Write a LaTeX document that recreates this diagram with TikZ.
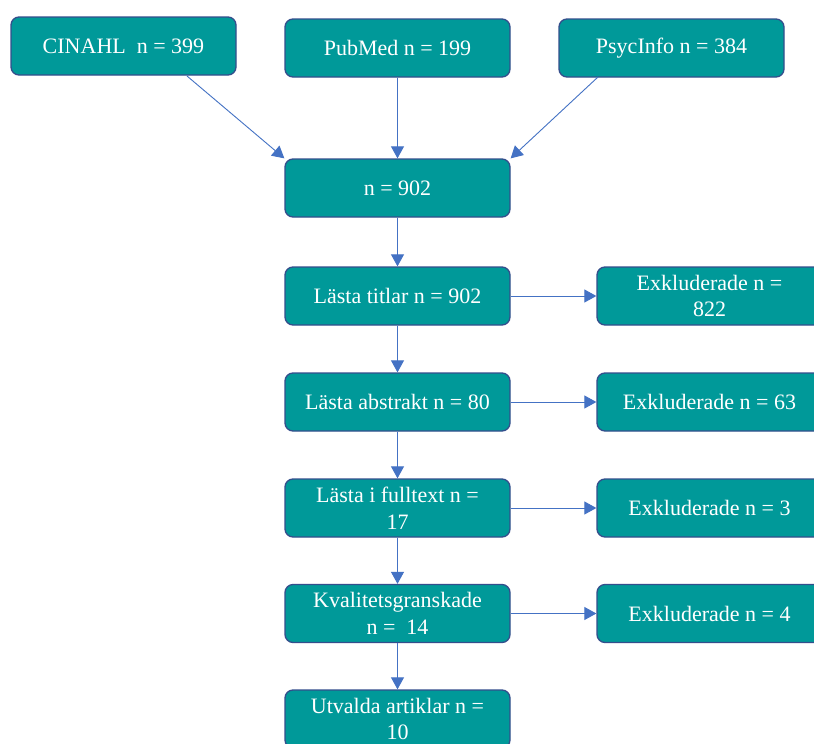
\documentclass[tikz,border=0pt]{standalone}
\usepackage{fontspec}
\setmainfont{Liberation Serif}
\usetikzlibrary{arrows.meta}
\definecolor{boxfill}{RGB}{0,153,153}
\definecolor{boxline}{RGB}{52,78,140}
\definecolor{arrowc}{RGB}{68,114,196}
\tikzset{
  stepbox/.style={draw=boxline, line width=1.3pt, fill=boxfill, rounded corners=8pt,
    minimum width=225pt, minimum height=58pt, text=white, align=center,
    font=\fontsize{22}{26.5}\selectfont, inner sep=0pt},
  flow/.style={draw=arrowc, line width=0.9pt, -{Triangle[length=12pt,width=13pt]}}
}
\begin{document}
\begin{tikzpicture}[x=1pt,y=-1pt]
\clip (0,0) rectangle (814,744);
\fill[white] (0,0) rectangle (814,744);
\node[stepbox] (cin) at (123.5,46) {CINAHL\ \ n = 399};
\node[stepbox] (pub) at (397.5,48) {PubMed n = 199};
\node[stepbox] (psy) at (671.5,48) {PsycInfo n = 384};
\node[stepbox] (tot) at (397.5,188) {n = 902};
\node[stepbox] (tit) at (397.5,296) {Lästa titlar n = 902};
\node[stepbox] (ex1) at (709.5,296) {Exkluderade n =\\822};
\node[stepbox] (abs) at (397.5,402) {Lästa abstrakt n = 80};
\node[stepbox] (ex2) at (709.5,402) {Exkluderade n = 63};
\node[stepbox] (ful) at (397.5,508) {Lästa i fulltext n =\\17};
\node[stepbox] (ex3) at (709.5,508) {Exkluderade n = 3};
\node[stepbox] (kva) at (397.5,613.5) {Kvalitetsgranskade\\n = \ 14};
\node[stepbox] (ex4) at (709.5,613.5) {Exkluderade n = 4};
\node[stepbox] (utv) at (397.5,719) {Utvalda artiklar n =\\10};
\coordinate (cinS) at (187,76);
\coordinate (psyS) at (598,77);
\draw[flow] (cinS) -- (tot.north west);
\draw[flow] (pub) -- (tot);
\draw[flow] (psyS) -- (tot.north east);
\draw[flow] (tot) -- (tit);
\draw[flow] (tit) -- (abs);
\draw[flow] (abs) -- (ful);
\draw[flow] (ful) -- (kva);
\draw[flow] (kva) -- (utv);
\draw[flow] (tit) -- (ex1);
\draw[flow] (abs) -- (ex2);
\draw[flow] (ful) -- (ex3);
\draw[flow] (kva) -- (ex4);
\end{tikzpicture}
\end{document}
